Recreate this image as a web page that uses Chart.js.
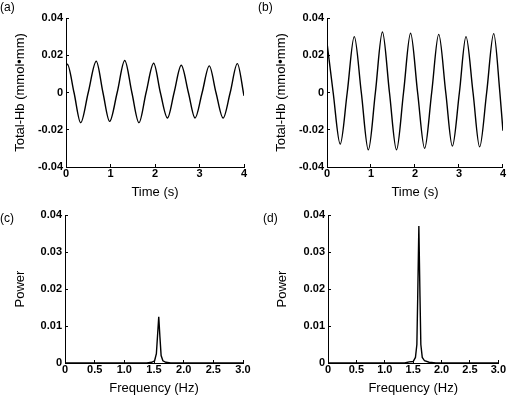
<!DOCTYPE html>
<html>
<head>
<meta charset="utf-8">
<script src="https://cdn.jsdelivr.net/npm/chart.js@4.4.0/dist/chart.umd.min.js"></script>
<style>
  body { margin: 0; background: #fff; }
  #fig { position: relative; width: 509px; height: 396px; font-family: 'Liberation Sans', Arial, sans-serif; }
  #fig canvas { position: absolute; }
  .tag { position: absolute; font-size: 12px; line-height: 12px; color: #000; }
</style>
</head>
<body>
<div id="fig">
  <canvas id="chartA" width="255" height="200" style="left:0;top:0"></canvas>
  <canvas id="chartB" width="254" height="200" style="left:255px;top:0"></canvas>
  <canvas id="chartC" width="255" height="196" style="left:0;top:200px"></canvas>
  <canvas id="chartD" width="254" height="196" style="left:255px;top:200px"></canvas>
  <div class="tag" style="left:0;top:1px">(a)</div>
  <div class="tag" style="left:258px;top:1px">(b)</div>
  <div class="tag" style="left:0;top:212px">(c)</div>
  <div class="tag" style="left:263px;top:212px">(d)</div>
</div>

<script>
// (a) total-Hb time course, read at peaks, troughs and zero crossings
const timeA = [0, 0.03, 0.18, 0.33, 0.50, 0.68, 0.83, 0.98, 1.15, 1.32, 1.48, 1.64, 1.80, 1.97,
               2.12, 2.28, 2.43, 2.59, 2.75, 2.90, 3.06, 3.22, 3.37, 3.53, 3.69, 3.85, 4.00];
const hbA = [0.0143, 0.0152, 0, -0.0162, 0, 0.0168, 0, -0.0155, 0, 0.0172, 0, -0.0162, 0, 0.0157,
             0, -0.0137, 0, 0.0146, 0, -0.0137, 0, 0.0143, 0, -0.0137, 0, 0.0155, -0.0018];

// (b) total-Hb time course
const timeB = [0, 0.14, 0.30, 0.46, 0.62, 0.78, 0.94, 1.10, 1.26, 1.42, 1.58, 1.74, 1.90, 2.06,
               2.22, 2.38, 2.54, 2.70, 2.85, 3.01, 3.16, 3.32, 3.47, 3.63, 3.79, 3.93, 4.00];
const hbB = [0.0268, 0, -0.0277, 0, 0.0300, 0, -0.0308, 0, 0.0325, 0, -0.0308, 0, 0.0318, 0,
             -0.0300, 0, 0.0312, 0, -0.0288, 0, 0.0300, 0, -0.0292, 0, 0.0316, 0, -0.0205];

// (c) power spectrum of (a)
const freqC = [0, 1.38, 1.46, 1.51, 1.54, 1.56, 1.58, 1.60, 1.62, 1.65, 1.70, 1.78, 3.0];
const powerC = [0, 0, 0.0002, 0.0006, 0.0025, 0.0075, 0.0125, 0.0070, 0.0020, 0.0006, 0.0002, 0, 0];

// (d) power spectrum of (b)
const freqD = [0, 1.35, 1.43, 1.50, 1.54, 1.565, 1.58, 1.60, 1.62, 1.635, 1.66, 1.70, 1.78, 1.90, 3.0];
const powerD = [0, 0, 0.0003, 0.0004, 0.0015, 0.005, 0.018, 0.037, 0.018, 0.005, 0.0015, 0.0006, 0.0002, 0, 0];

// tick values and labels
const timeTicks = [0, 1, 2, 3, 4];
const timeLabels = ['0', '1', '2', '3', '4'];
const hbTicks = [-0.04, -0.02, 0, 0.02, 0.04];
const hbLabels = ['-0.04', '-0.02', '0', '0.02', '0.04'];
const freqTicks = [0, 0.5, 1.0, 1.5, 2.0, 2.5, 3.0];
const freqLabels = ['0', '0.5', '1.0', '1.5', '2.0', '2.5', '3.0'];
const powerTicks = [0, 0.01, 0.02, 0.03, 0.04];
const powerLabels = ['0', '0.01', '0.02', '0.03', '0.04'];

const tickFont = { family: "'Liberation Sans', Arial, sans-serif", size: 11, weight: 'bold' };
const titleFont = { family: "'Liberation Sans', Arial, sans-serif", size: 13, lineHeight: 1 };

function makeAxis(ticks, labels, title, titlePad, fitFn) {
    return {
        type: 'linear',
        min: ticks[0],
        max: ticks[ticks.length - 1],
        afterBuildTicks: function(scale) {
            scale.ticks = ticks.map(v => ({ value: v }));
        },
        afterFit: fitFn,
        ticks: {
            autoSkip: false,
            maxRotation: 0,
            color: '#000',
            font: tickFont,
            callback: function(value, index) {
                return labels[index];
            }
        },
        grid: {
            drawOnChartArea: false,
            drawTicks: true,
            tickLength: -3,
            color: '#000'
        },
        border: { display: true, color: '#000', width: 1 },
        title: { display: true, text: title, color: '#000', font: titleFont, padding: titlePad }
    };
}

function makePanel(id, xs, ys, cfg) {
    const ctx = document.getElementById(id);
    const x = makeAxis(cfg.xTicks, cfg.xLabels, cfg.xTitle, { top: 0, bottom: 1 },
        s => { s.height = cfg.xHeight; });
    x.ticks.padding = 3;
    const y = makeAxis(cfg.yTicks, cfg.yLabels, cfg.yTitle, { top: cfg.yTitlePad, bottom: 0 },
        s => { s.width = cfg.yWidth; });
    y.ticks.padding = 6;

    return new Chart(ctx, {
        type: 'line',
        data: {
            datasets: [{
                data: xs.map((v, i) => ({ x: v, y: ys[i] })),
                borderColor: '#000',
                borderWidth: 1.4,
                fill: false,
                pointRadius: 0,
                tension: cfg.smooth ? 0.4 : 0,
                cubicInterpolationMode: cfg.smooth ? 'monotone' : 'default'
            }]
        },
        options: {
            responsive: false,
            animation: false,
            layout: { padding: { top: cfg.padTop, right: cfg.padRight, left: 0, bottom: 0 } },
            plugins: { legend: { display: false }, tooltip: { enabled: false } },
            scales: { x: x, y: y }
        }
    });
}

makePanel('chartA', timeA, hbA, {
    xTicks: timeTicks, xLabels: timeLabels, xTitle: 'Time (s)',
    yTicks: hbTicks, yLabels: hbLabels, yTitle: 'Total-Hb (mmol\u2022mm)',
    yWidth: 66, xHeight: 33, padTop: 18, padRight: 11, yTitlePad: 14, smooth: true
});
makePanel('chartB', timeB, hbB, {
    xTicks: timeTicks, xLabels: timeLabels, xTitle: 'Time (s)',
    yTicks: hbTicks, yLabels: hbLabels, yTitle: 'Total-Hb (mmol\u2022mm)',
    yWidth: 72, xHeight: 33, padTop: 18, padRight: 4, yTitlePad: 20, smooth: true
});
makePanel('chartC', freqC, powerC, {
    xTicks: freqTicks, xLabels: freqLabels, xTitle: 'Frequency (Hz)',
    yTicks: powerTicks, yLabels: powerLabels, yTitle: 'Power',
    yWidth: 65, xHeight: 33, padTop: 15, padRight: 12, yTitlePad: 14, smooth: false
});
makePanel('chartD', freqD, powerD, {
    xTicks: freqTicks, xLabels: freqLabels, xTitle: 'Frequency (Hz)',
    yTicks: powerTicks, yLabels: powerLabels, yTitle: 'Power',
    yWidth: 73, xHeight: 33, padTop: 15, padRight: 8, yTitlePad: 21, smooth: false
});
</script>
</body>
</html>
